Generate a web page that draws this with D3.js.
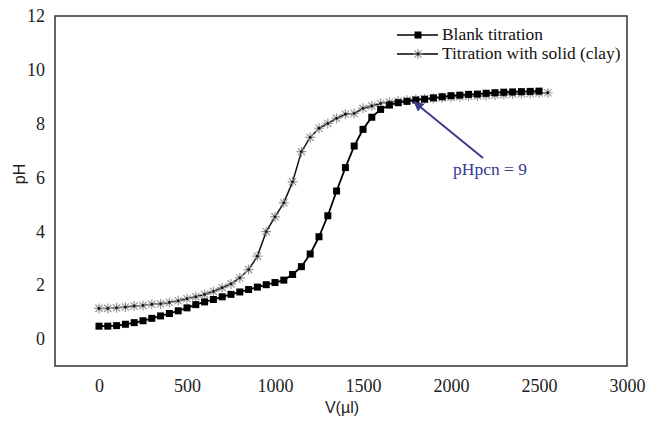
<!DOCTYPE html>
<html>
<head>
<meta charset="utf-8">
<script src="https://cdn.jsdelivr.net/npm/d3@7"></script>
<style>
  body { margin: 0; background: #fff; }
  svg { display: block; }
</style>
</head>
<body>
<svg id="chart" width="657" height="423"></svg>
<script>
// volumes are every 50 µl
const blankVolumes = d3.range(0, 2501, 50);
const blankPH = [
  0.48, 0.48, 0.50, 0.55, 0.61, 0.68, 0.77, 0.86, 0.95, 1.05,
  1.16, 1.28, 1.38, 1.47, 1.57, 1.66, 1.75, 1.84, 1.93, 2.02,
  2.10, 2.19, 2.40, 2.69, 3.16, 3.80, 4.58, 5.50, 6.37, 7.17,
  7.79, 8.24, 8.53, 8.69, 8.78, 8.83, 8.88, 8.91, 8.96, 9.00,
  9.04, 9.06, 9.09, 9.10, 9.13, 9.15, 9.17, 9.18, 9.19, 9.20,
  9.21
];

const clayVolumes = d3.range(0, 2551, 50);
const clayPH = [
  1.14, 1.14, 1.16, 1.19, 1.23, 1.25, 1.29, 1.31, 1.36, 1.42,
  1.50, 1.57, 1.66, 1.77, 1.91, 2.05, 2.27, 2.58, 3.08, 3.99,
  4.54, 5.06, 5.84, 6.96, 7.49, 7.83, 8.01, 8.20, 8.35, 8.38,
  8.57, 8.66, 8.75, 8.80, 8.84, 8.87, 8.90, 8.92, 8.94, 8.96,
  8.98, 9.00, 9.02, 9.03, 9.05, 9.07, 9.08, 9.10, 9.11, 9.12,
  9.14, 9.15
];

const xTicks = [0, 500, 1000, 1500, 2000, 2500, 3000];
const yTicks = [0, 2, 4, 6, 8, 10, 12];
const seriesNames = ["Blank titration", "Titration with solid (clay)"];
const pointLabel = { v: 1785, ph: 8.88, text: "pHpcn = 9" };

const svg = d3.select("#chart");
const plotLeft = 55, plotRight = 627, plotTop = 16, plotBottom = 366;

const x = d3.scaleLinear().domain([-250, 3000]).range([plotLeft, plotRight]);
const y = d3.scaleLinear().domain([-1, 12]).range([plotBottom, plotTop]);

const serif = "'Liberation Serif', 'Times New Roman', serif";
const sans = "'Liberation Sans', Arial, sans-serif";

// axes (labels only, no tick marks)
const xAxis = svg.append("g")
  .attr("transform", `translate(0,${plotBottom})`)
  .call(d3.axisBottom(x).tickValues(xTicks).tickFormat(d3.format("d")).tickSize(0).tickPadding(13));
xAxis.select(".domain").remove();
xAxis.selectAll("text")
  .attr("font-family", serif)
  .attr("font-size", 18)
  .attr("fill", "#222");

const yAxis = svg.append("g")
  .attr("transform", `translate(${plotLeft},0)`)
  .call(d3.axisLeft(y).tickValues(yTicks).tickSize(0).tickPadding(10));
yAxis.select(".domain").remove();
yAxis.selectAll("text")
  .attr("font-family", serif)
  .attr("font-size", 18)
  .attr("fill", "#222");

// plot frame
svg.append("rect")
  .attr("x", plotLeft).attr("y", plotTop)
  .attr("width", plotRight - plotLeft).attr("height", plotBottom - plotTop)
  .attr("fill", "none")
  .attr("stroke", "#333")
  .attr("stroke-width", 1.5);

// axis titles
svg.append("text")
  .attr("transform", "translate(21,174) rotate(-90)")
  .attr("text-anchor", "middle")
  .attr("dominant-baseline", "middle")
  .attr("font-family", sans)
  .attr("font-size", 16)
  .attr("fill", "#222")
  .text("pH");

svg.append("text")
  .attr("x", 342).attr("y", 413)
  .attr("text-anchor", "middle")
  .attr("font-family", sans)
  .attr("font-size", 16)
  .attr("fill", "#222")
  .text("V(µl)");

const blank = blankVolumes.map((v, i) => ({ v, ph: blankPH[i] }));
const clay = clayVolumes.map((v, i) => ({ v, ph: clayPH[i] }));

const line = d3.line().x((d) => x(d.v)).y((d) => y(d.ph));

// star marker path (asterisk: vertical stroke plus an x)
function starPath(r) {
  const a = r * 0.72;
  return `M0,${-r}V${r}M${-a},${-a}L${a},${a}M${-a},${a}L${a},${-a}M${-r},0H${r}`;
}

function drawStar(g) {
  g.append("path")
    .attr("d", starPath(5))
    .attr("stroke", "#999")
    .attr("stroke-width", 1.2)
    .attr("fill", "none");
  g.append("circle").attr("r", 1.4).attr("fill", "#111");
}

function drawSquare(g) {
  g.append("rect")
    .attr("x", -3.5).attr("y", -3.5)
    .attr("width", 7).attr("height", 7)
    .attr("fill", "#000");
}

// clay series
svg.append("path")
  .datum(clay)
  .attr("d", line)
  .attr("fill", "none")
  .attr("stroke", "#111")
  .attr("stroke-width", 1.5);

svg.append("g")
  .selectAll("g")
  .data(clay)
  .enter()
  .append("g")
  .attr("transform", (d) => `translate(${x(d.v)},${y(d.ph)})`)
  .each(function () { drawStar(d3.select(this)); });

// blank series
svg.append("path")
  .datum(blank)
  .attr("d", line)
  .attr("fill", "none")
  .attr("stroke", "#000")
  .attr("stroke-width", 1.8);

svg.append("g")
  .selectAll("g")
  .data(blank)
  .enter()
  .append("g")
  .attr("transform", (d) => `translate(${x(d.v)},${y(d.ph)})`)
  .each(function () { drawSquare(d3.select(this)); });

// legend
const legend = svg.append("g");
seriesNames.forEach((name, i) => {
  const ly = 35 + i * 19;
  legend.append("line")
    .attr("x1", 397).attr("x2", 438)
    .attr("y1", ly).attr("y2", ly)
    .attr("stroke", "#000")
    .attr("stroke-width", 1.6);
  const m = legend.append("g").attr("transform", `translate(418,${ly})`);
  if (i === 0) drawSquare(m); else drawStar(m);
  legend.append("text")
    .attr("x", 442).attr("y", ly + 5)
    .attr("font-family", serif)
    .attr("font-size", 17.4)
    .attr("fill", "#111")
    .text(name);
});

// annotation arrow
const navy = "#3b3b8e";
svg.append("defs").append("marker")
  .attr("id", "arrow")
  .attr("viewBox", "0 0 10 10")
  .attr("refX", 9).attr("refY", 5)
  .attr("markerWidth", 5).attr("markerHeight", 5)
  .attr("orient", "auto")
  .append("path")
  .attr("d", "M0,0L10,5L0,10z")
  .attr("fill", navy);

svg.append("line")
  .attr("x1", 483).attr("y1", 158)
  .attr("x2", x(pointLabel.v) + 1).attr("y2", y(pointLabel.ph) + 2)
  .attr("stroke", navy)
  .attr("stroke-width", 2)
  .attr("marker-end", "url(#arrow)");

svg.append("text")
  .attr("x", 453).attr("y", 175)
  .attr("font-family", serif)
  .attr("font-size", 17.5)
  .attr("fill", navy)
  .text(pointLabel.text);
</script>
</body>
</html>
